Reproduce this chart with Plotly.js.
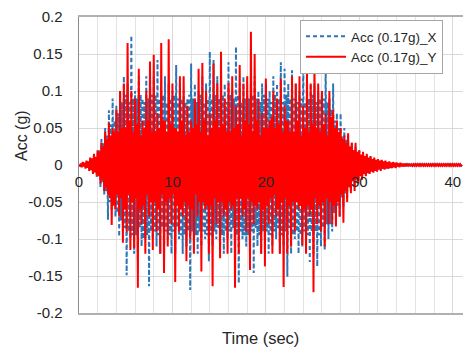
<!DOCTYPE html>
<html><head><meta charset="utf-8">
<script src="https://cdn.plot.ly/plotly-3.0.1.min.js"></script>
<style>html,body{margin:0;padding:0;background:#fff}#chart{width:463px;height:349px}</style>
</head><body><div id="chart"></div>
<script>
// sample interval (s)
const dt = 0.1;
// Acc X (g), one row per second (10 samples)
const accX = [
0,-.001,.001,-.002,.003,-.002,.002,-.004,.005,-.003,
.004,-.007,.009,-.006,.008,-.011,.013,-.009,.010,-.016,
.020,-.015,.020,-.030,.035,-.025,.030,-.040,.050,-.035,
.040,-.074,.074,-.050,.055,-.060,.090,-.055,.060,-.070,
.080,-.065,.070,-.097,.100,-.075,.085,-.090,.120,-.085,
.095,-.149,.110,-.090,.085,-.100,.175,-.095,.090,-.120,
.100,-.095,.090,-.130,.120,-.085,.095,-.110,.090,-.100,
.085,-.100,.120,-.095,.090,-.164,.130,-.090,.095,-.100,
.120,-.090,.095,-.110,.142,-.095,.090,-.120,.100,-.085,
.095,-.130,.120,-.090,.085,-.100,.110,-.095,.090,-.120,
.100,-.090,.095,-.120,.135,-.085,.090,-.100,.110,-.095,
.090,-.120,.100,-.095,.085,-.110,.090,-.090,.095,-.169,
.137,-.090,.090,-.100,.110,-.095,.085,-.120,.100,-.090,
.095,-.110,.120,-.090,.085,-.100,.110,-.095,.090,-.130,
.153,-.095,.090,-.110,.142,-.090,.095,-.100,.120,-.085,
.090,-.110,.100,-.095,.095,-.120,.110,-.090,.085,-.100,
.139,-.090,.095,-.120,.100,-.085,.090,-.110,.160,-.095,
.095,-.160,.110,-.090,.085,-.100,.120,-.095,.090,-.110,
.100,-.095,.090,-.120,.110,-.090,.095,-.146,.120,-.085,
.090,-.110,.100,-.095,.085,-.120,.110,-.090,.095,-.100,
.110,-.090,.090,-.120,.100,-.095,.085,-.110,.120,-.090,
.095,-.100,.110,-.085,.090,-.120,.139,-.095,.085,-.110,
.130,-.090,.095,-.151,.110,-.085,.090,-.120,.128,-.095,
.090,-.100,.110,-.090,.085,-.120,.100,-.095,.090,-.110,
.150,-.090,.085,-.100,.120,-.095,.090,-.131,.110,-.090,
.095,-.120,.110,-.090,.085,-.137,.100,-.095,.090,-.110,
.100,-.085,.090,-.115,.137,-.080,.085,-.100,.090,-.080,
.075,-.090,.110,-.065,.060,-.080,.070,-.055,.050,-.070,
.070,-.045,.040,-.056,.050,-.040,.035,-.045,.040,-.030,
.025,-.035,.030,-.022,.020,-.030,.025,-.018,.016,-.022,
.020,-.014,.013,-.018,.016,-.011,.010,-.014,.013,-.010,
.009,-.012,.011,-.008,.007,-.010,.009,-.007,.006,-.008,
.008,-.006,.005,-.007,.006,-.005,.004,-.006,.005,-.004,
.004,-.005,.004,-.003,.003,-.004,.003,-.003,.002,-.003,
.003,-.002,.002,-.002,.002,-.002,.001,-.002,.002,-.001,
.001,-.001,.001,-.001,.001,-.001,.001,-.001,.001,-.001,
.001,-.001,.001,-.001,.001,-.001,.001,-.001,.001,-.001,
.001,-.001,.001,-.001,.001,-.001,.001,-.001,.001,-.001,
.001,-.001,.001,-.001,.001,-.001,.001,-.001,.001,-.001,
.001,-.001,.001,-.001,.001,-.001,.001,-.001,.001,-.001,
.001,-.001,.001,-.001,.001,-.001,.001,-.001,.001,-.001,
0
];
// Acc Y (g), one row per second (10 samples)
const accY = [
0,-.001,.002,-.003,.004,-.002,.003,-.005,.006,-.004,
.005,-.008,.010,-.007,.009,-.012,.015,-.010,.011,-.014,
.020,-.015,.018,-.025,.030,-.020,.025,-.035,.045,-.030,
.035,-.040,.057,-.045,.040,-.081,.050,-.055,.045,-.060,
.075,-.040,.045,-.070,.100,-.045,.050,-.105,.110,-.060,
.050,-.090,.165,-.040,.060,-.115,.100,-.050,.045,-.112,
.090,-.045,.055,-.166,.130,-.060,.040,-.080,.060,-.055,
.050,-.120,.100,-.040,.060,-.070,.140,-.050,.045,-.115,
.149,-.050,.045,-.090,.070,-.060,.050,-.120,.165,-.040,
.060,-.146,.060,-.050,.045,-.110,.170,-.045,.055,-.080,
.110,-.040,.050,-.158,.050,-.055,.045,-.090,.120,-.060,
.060,-.070,.120,-.050,.040,-.130,.080,-.055,.045,-.100,
.060,-.060,.050,-.120,.090,-.040,.055,-.070,.130,-.050,
.045,-.144,.138,-.050,.060,-.060,.100,-.055,.040,-.120,
.070,-.055,.050,-.164,.137,-.045,.060,-.080,.110,-.050,
.050,-.126,.153,-.050,.055,-.070,.090,-.060,.045,-.120,
.110,-.050,.045,-.060,.120,-.055,.050,-.166,.080,-.045,
.055,-.120,.135,-.045,.040,-.070,.110,-.060,.060,-.090,
.120,-.045,.055,-.142,.180,-.050,.045,-.080,.150,-.055,
.060,-.060,.090,-.050,.040,-.120,.070,-.060,.050,-.137,
.117,-.055,.050,-.080,.060,-.045,.065,-.120,.100,-.040,
.050,-.070,.090,-.060,.055,-.120,.117,-.050,.045,-.165,
.080,-.045,.060,-.120,.060,-.055,.045,-.110,.120,-.050,
.045,-.090,.110,-.050,.060,-.060,.120,-.055,.040,-.108,
.080,-.060,.050,-.120,.128,-.055,.045,-.070,.110,-.060,
.055,-.172,.140,-.045,.050,-.080,.110,-.055,.045,-.090,
.100,-.050,.055,-.110,.070,-.045,.040,-.080,.100,-.050,
.065,-.080,.074,-.055,.050,-.083,.060,-.050,.045,-.070,
.050,-.040,.035,-.078,.040,-.035,.030,-.050,.043,-.030,
.025,-.038,.030,-.022,.020,-.035,.030,-.020,.018,-.025,
.020,-.015,.014,-.020,.018,-.012,.012,-.015,.015,-.011,
.010,-.012,.012,-.009,.008,-.010,.010,-.008,.007,-.009,
.008,-.006,.006,-.008,.007,-.005,.005,-.006,.006,-.005,
.004,-.005,.005,-.004,.003,-.004,.004,-.003,.003,-.004,
.003,-.002,.002,-.003,.003,-.002,.002,-.002,.002,-.002,
.002,-.002,.002,-.001,.001,-.002,.001,-.001,.001,-.001,
.001,-.001,.001,-.001,.001,-.001,.001,-.001,.001,-.001,
.001,-.001,.001,-.001,.001,-.001,.001,-.001,.001,-.001,
.001,-.001,.001,-.001,.001,-.001,.001,-.001,.001,-.001,
.001,-.001,.001,-.001,.001,-.001,.001,-.001,.001,-.001,
.001,-.001,.001,-.001,.001,-.001,.001,-.001,.001,-.001,
0
];
const seriesNames = ['Acc (0.17g)_X', 'Acc (0.17g)_Y'];
const xTickVals = [0, 10, 20, 30, 40];
const xTickText = ['0', '10', '20', '30', '40'];
const yTickVals = [-0.2, -0.15, -0.1, -0.05, 0, 0.05, 0.1, 0.15, 0.2];
const yTickText = ['-0.2', '-0.15', '-0.1', '-0.05', '0', '0.05', '0.1', '0.15', '0.2'];
const xTitle = 'Time (sec)';
const yTitle = 'Acc (g)';

const FONT = '"Liberation Sans", Arial, sans-serif';
const TXT = '#262626';
const xRange = [0, 41.1];

const traces = [
  {type:'scatter', mode:'lines', name:seriesNames[0], x0:0, dx:dt, y:accX,
   xaxis:'x', yaxis:'y',
   line:{color:'#2E75B6', width:2, dash:'4px,3px'}},
  {type:'scatter', mode:'lines', name:seriesNames[1], x0:0, dx:dt, y:accY,
   xaxis:'x2', yaxis:'y',
   line:{color:'#FF0000', width:2}}
];

const layout = {
  width:463, height:349,
  margin:{l:79, r:0, t:17, b:36},
  paper_bgcolor:'#fff', plot_bgcolor:'#fff',
  font:{family:FONT, color:TXT, size:15},
  showlegend:true,
  legend:{x:(300-79)/384, y:0.99, xanchor:'left', yanchor:'top',
    bgcolor:'#fff', bordercolor:'#a6a6a6', borderwidth:1,
    font:{family:FONT, size:13.5, color:TXT}, tracegroupgap:0, itemwidth:40},
  xaxis:{range:xRange, tickmode:'array', tickvals:xTickVals, showticklabels:false,
    showgrid:true, gridcolor:'#d9d9d9', gridwidth:1,
    minor:{tickmode:'linear', tick0:0, dtick:2, showgrid:true, gridcolor:'#e3e3e3', gridwidth:1},
    zeroline:false, showline:true, linecolor:'#b0b0b0', linewidth:2, mirror:true, ticks:''},
  xaxis2:{overlaying:'x', anchor:'free', position:0.5, range:xRange,
    tickmode:'array', tickvals:xTickVals, ticktext:xTickText,
    showgrid:false, zeroline:false, showline:false, ticks:'', ticklabelstandoff:6,
    tickfont:{family:FONT, size:15, color:TXT}},
  yaxis:{range:[-0.2, 0.2], tickmode:'array', tickvals:yTickVals, ticktext:yTickText,
    showgrid:true, gridcolor:'#d9d9d9', gridwidth:1, zeroline:false,
    showline:true, linecolor:'#8c8c8c', linewidth:1.5, ticks:'', ticklabelstandoff:12,
    tickfont:{family:FONT, size:15, color:TXT}},
  annotations:[
    {text:yTitle, xref:'paper', yref:'paper', x:(21-79)/384, y:(313-136)/296,
     xanchor:'center', yanchor:'middle', textangle:-90, showarrow:false,
     font:{family:FONT, size:16, color:TXT}},
    {text:xTitle, xref:'paper', yref:'paper', x:(260-79)/384, y:(313-338)/296,
     xanchor:'center', yanchor:'middle', showarrow:false, borderpad:0,
     font:{family:FONT, size:16.5, color:TXT}}
  ]
};

Plotly.newPlot('chart', traces, layout, {displayModeBar:false, staticPlot:true});
</script>
</body></html>
